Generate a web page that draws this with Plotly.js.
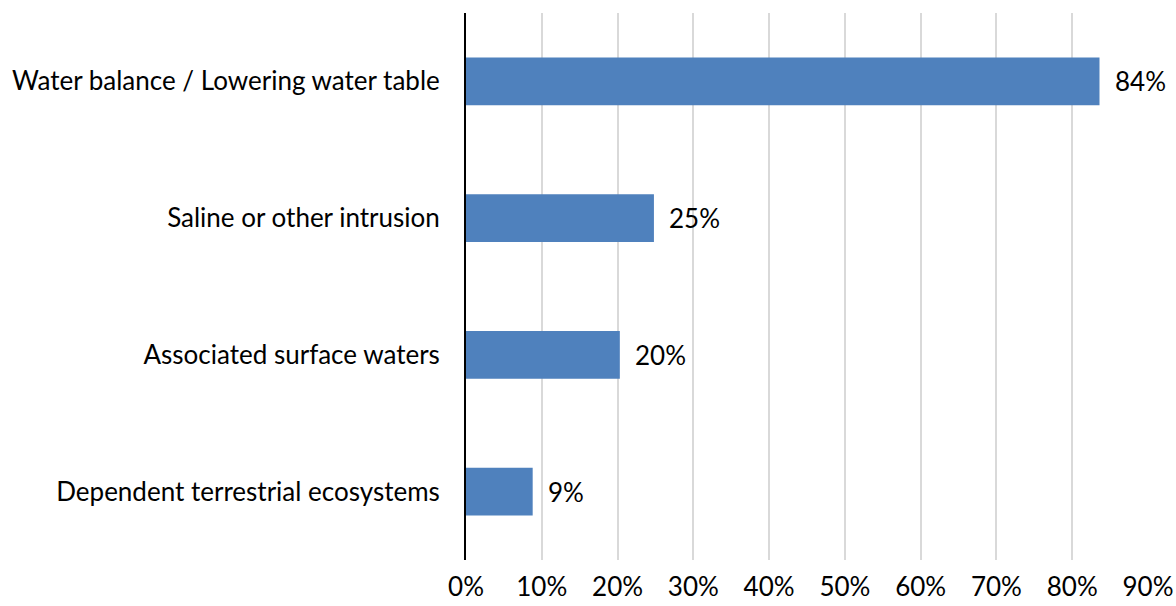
<!DOCTYPE html>
<html>
<head>
<meta charset="utf-8">
<script src="https://cdn.plot.ly/plotly-3.0.1.min.js"></script>
<style>html,body{margin:0;padding:0;background:#fff;}#chart{width:1176px;height:606px;}</style>
</head>
<body>
<div id="chart"></div>
<script>
const categories = ["Water balance / Lowering water table", "Saline or other intrusion", "Associated surface waters", "Dependent terrestrial ecosystems"];
const values = [0.836, 0.248, 0.203, 0.088];
const tickVals = [0, 0.1, 0.2, 0.3, 0.4, 0.5, 0.6, 0.7, 0.8, 0.9];
const tickLabels = ["0%", "10%", "20%", "30%", "40%", "50%", "60%", "70%", "80%", "90%"];

const FONT = "Lato, 'Noto Sans', sans-serif";
const FS = 26;

const trace = {
  type: "bar",
  orientation: "h",
  y: categories,
  x: values,
  marker: {color: "#4F81BD", line: {width: 0}},
  hoverinfo: "none"
};

const annotations = categories.map((c, i) => ({
  x: values[i], y: c, xref: "x", yref: "y",
  text: Math.round(values[i] * 100) + "%",
  showarrow: false, xanchor: "left", yanchor: "middle", xshift: 13,
  font: {family: FONT, size: FS, color: "#000"}
}));

const layout = {
  width: 1176, height: 606,
  margin: {l: 466, r: 28, t: 13, b: 46},
  paper_bgcolor: "#fff", plot_bgcolor: "#fff",
  showlegend: false,
  bargap: 0.65,
  font: {family: FONT, size: FS, color: "#000"},
  xaxis: {
    range: [0, 0.9],
    tickvals: tickVals, ticktext: tickLabels,
    showgrid: true, gridcolor: "#d9d9d9", gridwidth: 2,
    zeroline: false, showline: false, ticks: "",
    ticklabelstandoff: 9,
    tickfont: {family: FONT, size: FS, color: "#000"},
    fixedrange: true
  },
  yaxis: {
    autorange: "reversed",
    showgrid: false, zeroline: false,
    showline: true, linecolor: "#000", linewidth: 2,
    ticks: "", ticklabelstandoff: 19,
    tickfont: {family: FONT, size: FS, color: "#000"},
    fixedrange: true
  },
  annotations: annotations
};

Plotly.newPlot("chart", [trace], layout, {displayModeBar: false, staticPlot: true});
</script>
</body>
</html>
